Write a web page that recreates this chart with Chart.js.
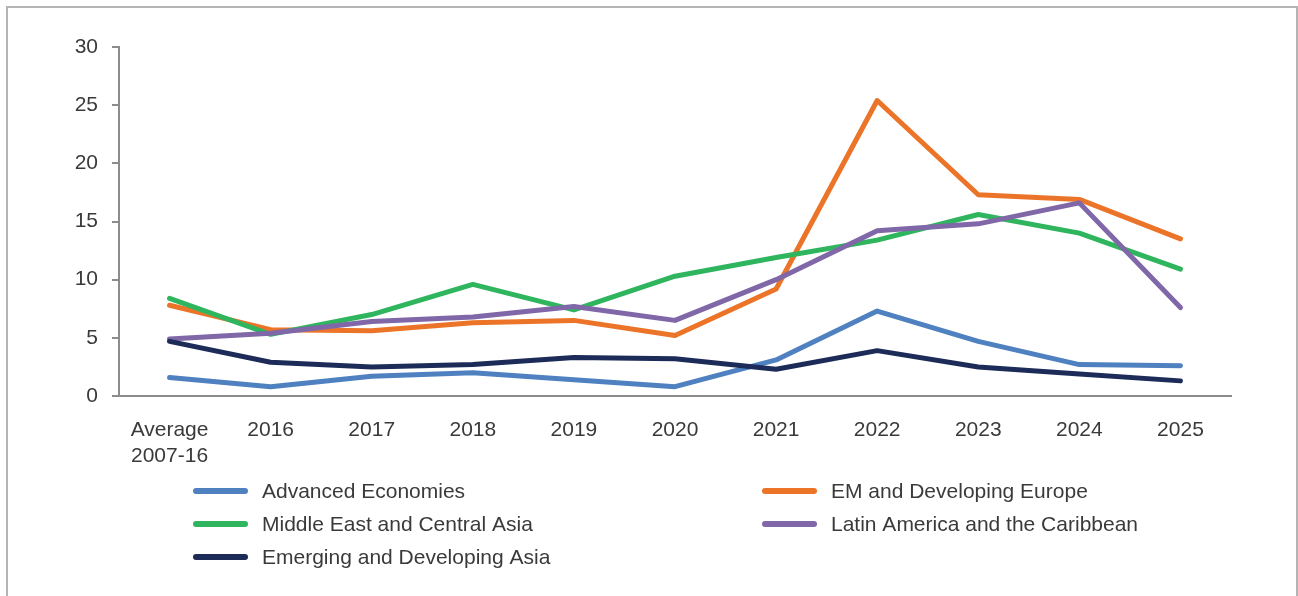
<!DOCTYPE html>
<html>
<head>
<meta charset="utf-8">
<script src="https://cdn.jsdelivr.net/npm/chart.js@4/dist/chart.umd.min.js"></script>
<style>
    html, body { margin: 0; padding: 0; background: #fff; overflow: hidden; }
    #frame {
        position: absolute; left: 6px; top: 6px; width: 1288px; height: 640px;
        border: 2px solid #b4b4b4; border-bottom: none;
    }
    #chart { position: absolute; left: 0; top: 0; }
</style>
</head>
<body>
<div id="frame"></div>
<canvas id="chart" width="1298" height="596"></canvas>
<script>
// Categories and series (percent)
const categories = [['Average', '2007-16'], '2016', '2017', '2018', '2019', '2020', '2021', '2022', '2023', '2024', '2025'];
const advancedEconomies = [1.6, 0.8, 1.7, 2.0, 1.4, 0.8, 3.1, 7.3, 4.7, 2.7, 2.6];
const emDevelopingEurope = [7.8, 5.7, 5.6, 6.3, 6.5, 5.2, 9.2, 25.4, 17.3, 16.9, 13.5];
const middleEastCentralAsia = [8.4, 5.3, 7.0, 9.6, 7.4, 10.3, 11.9, 13.4, 15.6, 14.0, 10.9];
const latinAmericaCaribbean = [4.9, 5.4, 6.4, 6.8, 7.7, 6.5, 10.0, 14.2, 14.8, 16.6, 7.6];
const emergingDevelopingAsia = [4.7, 2.9, 2.5, 2.7, 3.3, 3.2, 2.3, 3.9, 2.5, 1.9, 1.3];
const yTicks = [0, 5, 10, 15, 20, 25, 30];

const textColor = '#3a3a3a';
const axisColor = '#8c8c8c';
const fontFamily = '"Liberation Sans", Arial, sans-serif';

function series(label, data, color, order) {
    return {
        label, data, order,
        borderColor: color,
        backgroundColor: color,
        borderWidth: 5,
        borderCapStyle: 'round',
        borderJoinStyle: 'round',
        pointRadius: 0,
        tension: 0,
        fill: false
    };
}

// Two-column legend under the axis
const gridLegend = {
    id: 'gridLegend',
    afterDraw(chart) {
        const ctx = chart.ctx;
        const cols = [193, 762];
        const rowTop = 491, rowGap = 33;
        ctx.save();
        ctx.font = '21px ' + fontFamily;
        ctx.textBaseline = 'middle';
        ctx.fillStyle = textColor;
        chart.data.datasets.forEach((ds, i) => {
            const x = cols[i % 2];
            const y = rowTop + Math.floor(i / 2) * rowGap;
            ctx.beginPath();
            ctx.lineCap = 'round';
            ctx.lineWidth = 6;
            ctx.strokeStyle = ds.borderColor;
            ctx.moveTo(x + 3, y);
            ctx.lineTo(x + 52, y);
            ctx.stroke();
            ctx.fillText(ds.label, x + 69, y + 1);
        });
        ctx.restore();
    }
};

new Chart(document.getElementById('chart'), {
    type: 'line',
    data: {
        labels: categories,
        datasets: [
            series('Advanced Economies', advancedEconomies, '#4f81c0', 5),
            series('EM and Developing Europe', emDevelopingEurope, '#ec7429', 4),
            series('Middle East and Central Asia', middleEastCentralAsia, '#2fb55d', 3),
            series('Latin America and the Caribbean', latinAmericaCaribbean, '#7f67a8', 2),
            series('Emerging and Developing Asia', emergingDevelopingAsia, '#1c2b58', 1)
        ]
    },
    options: {
        responsive: false,
        animation: false,
        layout: { padding: { left: 0, right: 67, top: 47, bottom: 120 } },
        plugins: {
            legend: { display: false },
            tooltip: { enabled: false }
        },
        scales: {
            x: {
                offset: true,
                grid: { display: false },
                border: { display: true, color: axisColor, width: 2 },
                ticks: {
                    color: textColor,
                    font: { family: fontFamily, size: 21, lineHeight: 1.26 },
                    padding: 13,
                    autoSkip: false,
                    maxRotation: 0
                },
                afterFit(scale) { scale.height = 80; }
            },
            y: {
                min: 0,
                max: 30,
                afterBuildTicks(scale) { scale.ticks = yTicks.map(v => ({ value: v })); },
                grid: {
                    drawOnChartArea: false,
                    drawTicks: true,
                    tickLength: 7,
                    color: axisColor,
                    lineWidth: 2
                },
                border: { display: true, color: axisColor, width: 2 },
                ticks: {
                    color: textColor,
                    font: { family: fontFamily, size: 21 },
                    padding: 14
                },
                afterFit(scale) { scale.width = 119; }
            }
        }
    },
    plugins: [gridLegend]
});
</script>
</body>
</html>
